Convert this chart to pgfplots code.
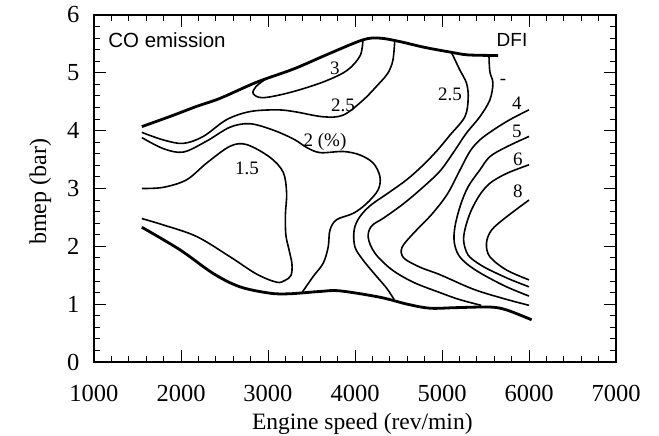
\documentclass[border=0pt]{standalone}
\usepackage{fontspec}
\setmainfont{Liberation Serif}
\newfontfamily\sansf{Liberation Sans}
\usepackage{pgfplots}
\pgfplotsset{compat=1.18}
\begin{document}
\begin{tikzpicture}
\path[use as bounding box] (0,0) rectangle (659pt,436pt);
\begin{axis}[
  at={(94pt,74pt)}, anchor=south west,
  scale only axis, width=522pt, height=347pt,
  xmin=1000,xmax=7000,ymin=0,ymax=6,
  xtick={1000,2000,...,7000}, ytick={0,1,...,6},
  minor x tick num=4, minor y tick num=4,
  tick align=inside, xtick pos=both, ytick pos=both,
  major tick length=12pt, minor tick length=6pt,
  every tick/.style={black, line width=1pt},
  axis line style={line width=1.3pt},
  /pgf/number format/1000 sep={},
  /pgf/number format/assume math mode=true,
  ticklabel style={font=\fontsize{24.5}{28}\selectfont},
  xticklabel style={yshift=-20pt},
  yticklabel style={xshift=-11pt},
  xlabel={Engine speed (rev/min)},
  ylabel={bmep (bar)},
  every axis x label/.style={at={(axis description cs:0.514,-0.178)}, anchor=center, font=\fontsize{23.5}{27}\selectfont},
  every axis y label/.style={at={(axis description cs:-0.103,0.49)}, anchor=center, rotate=90, font=\fontsize{24}{27}\selectfont},
  clip=false,
  contour/.style={black, line width=1.6pt, smooth, tension=0.55},
  bound/.style={black, line width=2.8pt, smooth, tension=0.55},
]
% operating boundary
\addplot[bound] coordinates {(1550,4.07) (1900,4.26) (2180,4.42) (2450,4.56) (2873,4.84) (3300,5.07) (3700,5.33) (4091,5.57) (4286,5.60) (4516,5.54) (4800,5.44) (5090,5.36) (5300,5.31) (5645,5.30)};
\addplot[bound] coordinates {(1550,2.33) (1988,1.94) (2371,1.53) (2678,1.30) (3022,1.19) (3252,1.18) (3600,1.22) (3826,1.23) (4286,1.12) (4600,1.00) (4861,0.93) (5167,0.94) (5550,0.95) (5742,0.90) (6030,0.73)};
% 3
\addplot[contour] coordinates {(2970,4.89) (2860,4.76) (2830,4.64) (2942,4.57) (3252,4.66) (3631,4.84) (3907,5.04) (4060,5.30) (4091,5.58)};
% 2.5 left
\addplot[contour] coordinates {(1550,3.97) (1796,3.84) (2026,3.78) (2256,3.90) (2524,4.19) (2792,4.33) (3099,4.36) (3300,4.33) (3635,4.24) (3865,4.27) (4094,4.53) (4286,4.83) (4380,5.0) (4436,5.22) (4458,5.58)};
% 2
\addplot[contour] coordinates {(1550,3.88) (1796,3.69) (2026,3.63) (2295,3.82) (2563,4.06) (2792,4.12) (3060,4.01) (3300,3.85) (3444,3.71) (3600,3.62) (3865,3.64) (4056,3.58) (4209,3.44) (4286,3.21) (4267,2.98) (4133,2.74) (3979,2.57) (3788,2.46) (3712,2.28) (3692,1.99) (3635,1.71) (3520,1.48) (3386,1.19)};
% 1.5
\addplot[contour] coordinates {(1550,3.00) (1796,3.02) (2064,3.15) (2295,3.44) (2563,3.73) (2754,3.76) (3022,3.54) (3175,3.28) (3214,2.92) (3200,2.55) (3205,2.2) (3240,1.95) (3275,1.70) (3265,1.50) (3194,1.41) (3099,1.38) (2869,1.52) (2563,1.82) (2180,2.17) (1796,2.37) (1550,2.48)};
% 2.5 right
\addplot[contour] coordinates {(5110,5.35) (5205,5.05) (5282,4.82) (5301,4.56) (5263,4.24) (5090,3.92) (4940,3.65) (4780,3.40) (4593,3.15) (4380,2.92) (4180,2.71) (4050,2.50) (3990,2.28) (3999,1.99) (4094,1.76) (4248,1.48) (4362,1.28) (4450,1.08)};
% "-" contour
\addplot[contour] coordinates {(5540,5.30) (5550,5.02) (5585,4.82) (5550,4.53) (5435,4.24) (5282,3.96) (5130,3.62) (4976,3.30) (4780,3.02) (4560,2.74) (4340,2.50) (4190,2.35) (4152,2.15) (4230,1.88) (4420,1.60) (4669,1.38) (4976,1.20) (5200,1.08) (5450,0.98)};
% 4
\addplot[contour] coordinates {(6000,4.36) (5780,4.19) (5588,4.01) (5435,3.84) (5320,3.64) (5200,3.30) (5060,2.90) (4880,2.55) (4669,2.22) (4540,1.98) (4560,1.80) (4746,1.64) (4976,1.51) (5358,1.26) (5700,1.10) (6000,0.98)};
% 5
\addplot[contour] coordinates {(6000,3.90) (5742,3.72) (5550,3.55) (5435,3.32) (5300,3.03) (5210,2.70) (5150,2.35) (5140,2.08) (5190,1.85) (5300,1.68) (5473,1.51) (5742,1.30) (6000,1.14)};
% 6
\addplot[contour] coordinates {(6000,3.41) (5742,3.26) (5550,3.09) (5430,2.88) (5330,2.60) (5265,2.30) (5250,2.08) (5300,1.85) (5420,1.70) (5550,1.59) (5780,1.43) (6000,1.30)};
% 8
\addplot[contour] coordinates {(6000,2.80) (5742,2.51) (5569,2.28) (5511,2.05) (5550,1.82) (5742,1.59) (6000,1.42)};
% labels
\node[font=\sansf\fontsize{20.5}{24}\selectfont] at (axis cs:1839,5.57) {CO emission};
\node[font=\sansf\fontsize{19}{22}\selectfont] at (axis cs:5805,5.57) {DFI};
\begin{scope}[every node/.style={font=\fontsize{19}{21}\selectfont, inner sep=1pt}]
\node at (axis cs:3770,5.08) {3};
\node at (axis cs:3862,4.44) {2.5};
\node at (axis cs:3655,3.80) {2 (\%)};
\node at (axis cs:2759,3.35) {1.5};
\node at (axis cs:5092,4.62) {2.5};
\node at (axis cs:5701,4.84) {-};
\node at (axis cs:5862,4.48) {4};
\node at (axis cs:5862,3.98) {5};
\node at (axis cs:5873,3.50) {6};
\node at (axis cs:5873,2.95) {8};
\end{scope}
\end{axis}
\end{tikzpicture}
\end{document}
